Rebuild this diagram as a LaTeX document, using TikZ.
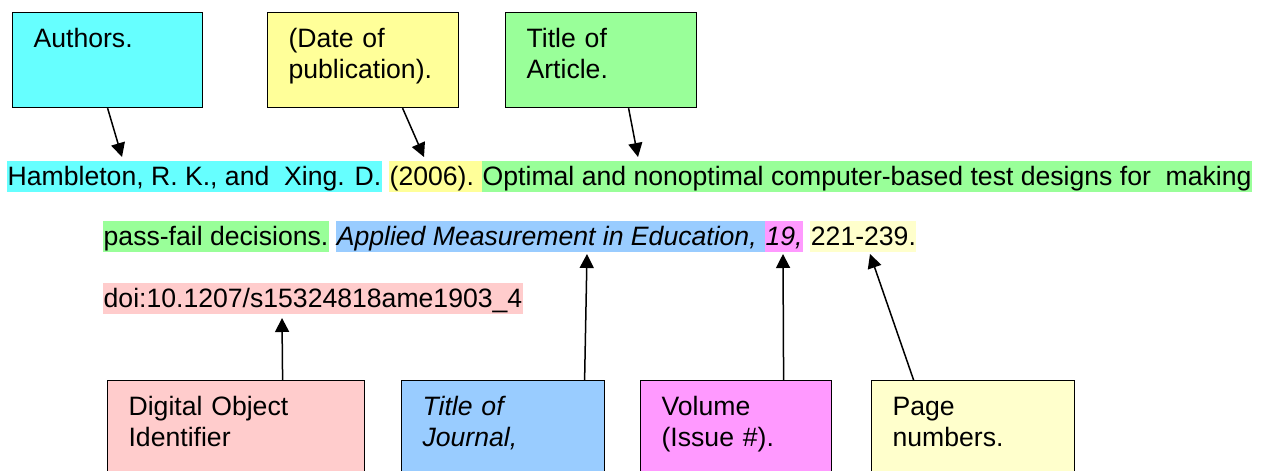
\documentclass[tikz,border=0pt]{standalone}
\usepackage{fontspec}
\setmainfont{Liberation Sans}
\usepackage{tikz}
\usetikzlibrary{positioning, arrows.meta}
\definecolor{authcyan}{HTML}{66FFFF}
\definecolor{dateyellow}{HTML}{FFFF99}
\definecolor{articlegreen}{HTML}{99FF99}
\definecolor{journalblue}{HTML}{99CCFF}
\definecolor{volumepink}{HTML}{FF99FF}
\definecolor{pagesyellow}{HTML}{FFFFCC}
\definecolor{doipink}{HTML}{FFCCCC}
\tikzstyle{tag} = [rectangle, draw=black, line width=1.2pt, anchor=north west, minimum height=95pt, inner xsep=21pt, inner ysep=11pt, text height=24pt, text depth=49pt, align=left]
\tikzstyle{hilite} = [rectangle, inner xsep=0.5pt, inner ysep=0pt, text height=24pt, text depth=7pt]
\tikzstyle{arrow} = [line width=1.5pt, -{Triangle[length=14pt, width=14pt]}]

\begin{document}
\begin{tikzpicture}[x=1pt, y=-1pt, font=\fontsize{26.6}{31}\selectfont]
	\useasboundingbox (0,0) rectangle (1261,471);
	% boxes above the reference
	\node(authors) [tag, fill=authcyan, text width=148pt] at (12,12) {Authors.};
	\node(date) [tag, fill=dateyellow, text width=149pt] at (267,12) {(Date of\\publication).};
	\node(article) [tag, fill=articlegreen, text width=149pt] at (505,12) {Title of\\Article.};

	% the reference itself
	\node(auth_text) [hilite, fill=authcyan, anchor=base west] at (7,185) {Hambleton, R. K., and~ Xing. D.};
	\node(year_text) [hilite, fill=dateyellow, right=7pt of auth_text] {(2006).\kern0.278em};
	\node(article_text) [hilite, fill=articlegreen, right=0pt of year_text] {Optimal and nonoptimal computer-based test designs for~ making};
	\node(article_text2) [hilite, fill=articlegreen, anchor=base west] at (103,245) {pass-fail decisions.};
	\node(journal_text) [hilite, fill=journalblue, right=7pt of article_text2] {\itshape Applied Measurement in Education,\kern0.278em};
	\node(volume_text) [hilite, fill=volumepink, right=0pt of journal_text] {\itshape 19,};
	\node(pages_text) [hilite, fill=pagesyellow, right=7pt of volume_text] {221-239.};
	\node(doi_text) [hilite, fill=doipink, anchor=base west] at (103,307) {doi:10.1207/s15324818ame1903\_4};

	% boxes below the reference
	\node(doi) [tag, fill=doipink, text width=215pt] at (107,380) {Digital Object\\Identifier};
	\node(journal) [tag, fill=journalblue, text width=161pt] at (401,380) {\itshape Title of\\\itshape Journal,};
	\node(volume) [tag, fill=volumepink, text width=149pt] at (640,380) {Volume\\(Issue \#).};
	\node(pages) [tag, fill=pagesyellow, text width=161pt] at (871,380) {Page\\numbers.};

	% arrow tips
	\coordinate (authors_tip) at (122,157);
	\coordinate (date_tip) at (424,157);
	\coordinate (article_tip) at (638,157);
	\coordinate (doi_tip) at (282,318);
	\coordinate (journal_tip) at (587,254);
	\coordinate (volume_tip) at (783,254);
	\coordinate (pages_tip) at (870,254);

	\draw[arrow] (authors.south) -- (authors_tip);
	\draw[arrow] ([xshift=39.5pt]date.south) -- (date_tip);
	\draw[arrow] ([xshift=27.5pt]article.south) -- (article_tip);
	\draw[arrow] ([xshift=46.5pt]doi.north) -- (doi_tip);
	\draw[arrow] ([xshift=81.5pt]journal.north) -- (journal_tip);
	\draw[arrow] ([xshift=47.5pt]volume.north) -- (volume_tip);
	\draw[arrow] ([xshift=-59.5pt]pages.north) -- (pages_tip);
\end{tikzpicture}
\end{document}
